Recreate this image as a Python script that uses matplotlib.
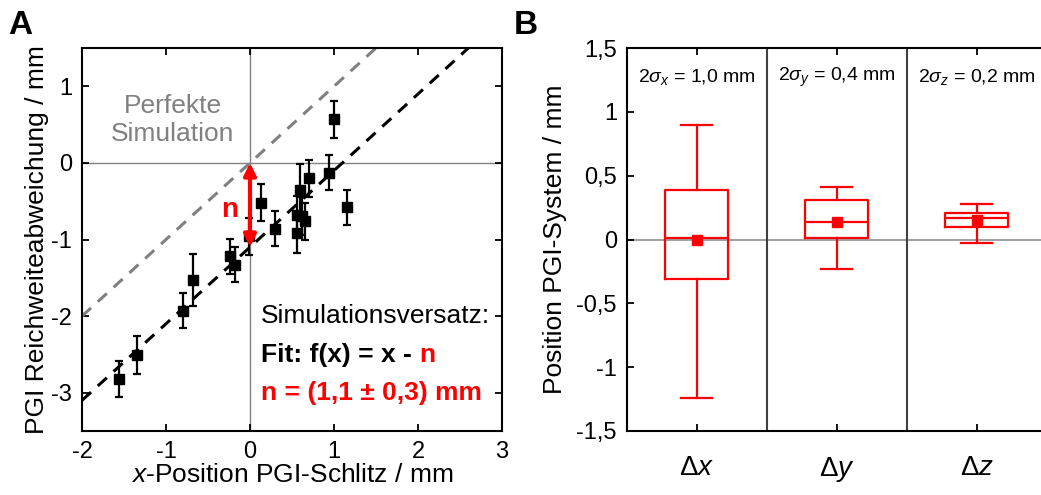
import numpy as np
import matplotlib
matplotlib.use("Agg")
import matplotlib.pyplot as plt

plt.rcParams['font.family'] = ['Liberation Sans', 'DejaVu Sans']
plt.rcParams['mathtext.fontset'] = 'custom'
plt.rcParams['mathtext.rm'] = 'Liberation Sans'
plt.rcParams['mathtext.it'] = 'Liberation Sans:italic'
plt.rcParams['mathtext.bf'] = 'Liberation Sans:bold'
plt.rcParams['axes.unicode_minus'] = False

# Panel A data
x_pos = [-1.56, -1.35, -0.80, -0.68, -0.24, -0.18, -0.01, 0.13, 0.30,
         0.56, 0.56, 0.60, 0.62, 0.66, 0.70, 0.94, 1.00, 1.15]
y_dev = [-2.82, -2.51, -1.93, -1.53, -1.22, -1.33, -0.96, -0.52, -0.86,
         -0.68, -0.92, -0.36, -0.69, -0.76, -0.20, -0.13, 0.57, -0.58]
y_err = [0.24, 0.25, 0.23, 0.34, 0.23, 0.23, 0.24, 0.24, 0.23,
         0.25, 0.25, 0.35, 0.25, 0.24, 0.24, 0.23, 0.24, 0.23]
offset_n = 1.1

# Panel B data
categories = [r'$\Delta x$', r'$\Delta y$', r'$\Delta z$']
sigma_labels = [r'$2\sigma_x$ = 1,0 mm', r'$2\sigma_y$ = 0,4 mm', r'$2\sigma_z$ = 0,2 mm']
whis_lo = [-1.24, -0.23, -0.03]
q1 = [-0.31, 0.01, 0.10]
med = [0.01, 0.14, 0.165]
q3 = [0.39, 0.31, 0.21]
whis_hi = [0.90, 0.41, 0.28]
means = [0.0, 0.14, 0.15]

fig = plt.figure(figsize=(10.41, 4.95), dpi=100)
W, H = 1041, 495

# ---------- Panel A ----------
ax = fig.add_axes([82/W, (H-431)/H, 420/W, 383/H])
ax.set_xlim(-2, 3)
ax.set_ylim(-3.5, 1.5)
ax.axhline(0, color='#808080', lw=1, zorder=1)
ax.axvline(0, color='#808080', lw=1, zorder=1)

xl = np.array([-2, 3])
ax.plot(xl, xl, color='#808080', lw=2.2, dashes=(4, 3), zorder=2)
ax.plot(xl, xl - offset_n, color='black', lw=2.2, dashes=(4, 3), zorder=2)

ax.errorbar(x_pos, y_dev, yerr=y_err, fmt='s', color='black', ms=7,
            elinewidth=1.6, capsize=3, capthick=1.6, zorder=3)

ax.annotate('', xy=(0, 0), xytext=(0, -offset_n),
            arrowprops=dict(arrowstyle='<|-|>', color='red', lw=3,
                            mutation_scale=18, shrinkA=0, shrinkB=0), zorder=4)
ax.text(-0.24, -0.62, 'n', color='red', fontsize=20, fontweight='bold',
        ha='center', va='center')

ax.text(-0.92, 0.56, 'Perfekte\nSimulation', color='#808080', fontsize=19,
        ha='center', va='center', linespacing=1.2)
ax.text(0.13, -2.0, 'Simulationsversatz:', fontsize=19, ha='left', va='center')
t = ax.text(0.13, -2.51, 'Fit: f(x) = x - ', fontsize=19, fontweight='bold',
            ha='left', va='center')
ax.annotate('n', xy=(1, 0), xycoords=t, fontsize=19, fontweight='bold',
            color='red', ha='left', va='bottom')
ax.text(0.13, -3.0, 'n = (1,1 \u00b1 0,3) mm', fontsize=19, fontweight='bold',
        color='red', ha='left', va='center')

ax.set_xticks([-2, -1, 0, 1, 2, 3])
ax.set_yticks([-3, -2, -1, 0, 1])
ax.tick_params(direction='in', top=True, right=True, length=5, width=1.3,
               labelsize=17, pad=7)
for s in ax.spines.values():
    s.set_linewidth(1.5)
ax.set_xlabel('$x$-Position PGI-Schlitz / mm', fontsize=19, labelpad=0)
ax.set_ylabel('PGI Reichweiteabweichung / mm', fontsize=19, labelpad=2)

# ---------- Panel B ----------
bx = fig.add_axes([626.7/W, (H-431)/H, 420/W, 383/H])
bx.set_xlim(0.5, 3.5)
bx.set_ylim(-1.5, 1.5)
bx.axhline(0, color='#909090', lw=1.2, zorder=1)
for xs in [1.5, 2.5]:
    bx.axvline(xs, color='#404040', lw=1.5, zorder=1)

stats = []
for i in range(len(categories)):
    stats.append(dict(med=med[i], q1=q1[i], q3=q3[i], whislo=whis_lo[i],
                      whishi=whis_hi[i], mean=means[i], fliers=[]))
red = dict(color='red', linewidth=1.6)
bx.bxp(stats, positions=[1, 2, 3], widths=0.45, showmeans=True,
       boxprops=red, whiskerprops=red, capprops=red, medianprops=red,
       meanprops=dict(marker='s', markerfacecolor='red', markeredgecolor='red',
                      markersize=7),
       capwidths=0.22)

for i, lab in enumerate(sigma_labels):
    bx.text(i + 1, 1.27, lab, fontsize=14, ha='center', va='center')

bx.set_xticks([1, 2, 3])
bx.set_xticklabels(categories)
bx.set_yticks([-1.5, -1, -0.5, 0, 0.5, 1, 1.5])
bx.set_yticklabels(['-1,5', '-1', '-0,5', '0', '0,5', '1', '1,5'])
bx.tick_params(axis='x', direction='in', top=True, length=5, width=1.3,
               labelsize=20, pad=17)
bx.tick_params(axis='y', direction='in', length=5, width=1.3,
               labelsize=17, pad=7)
for s in bx.spines.values():
    s.set_linewidth(1.5)
bx.set_ylabel('Position PGI-System / mm', fontsize=19, labelpad=7)

fig.text(8/W, 1 - 25/H, 'A', fontsize=24, fontweight='bold', va='center')
fig.text(514/W, 1 - 25/H, 'B', fontsize=24, fontweight='bold', va='center')

fig.savefig('out.png', dpi=100)
